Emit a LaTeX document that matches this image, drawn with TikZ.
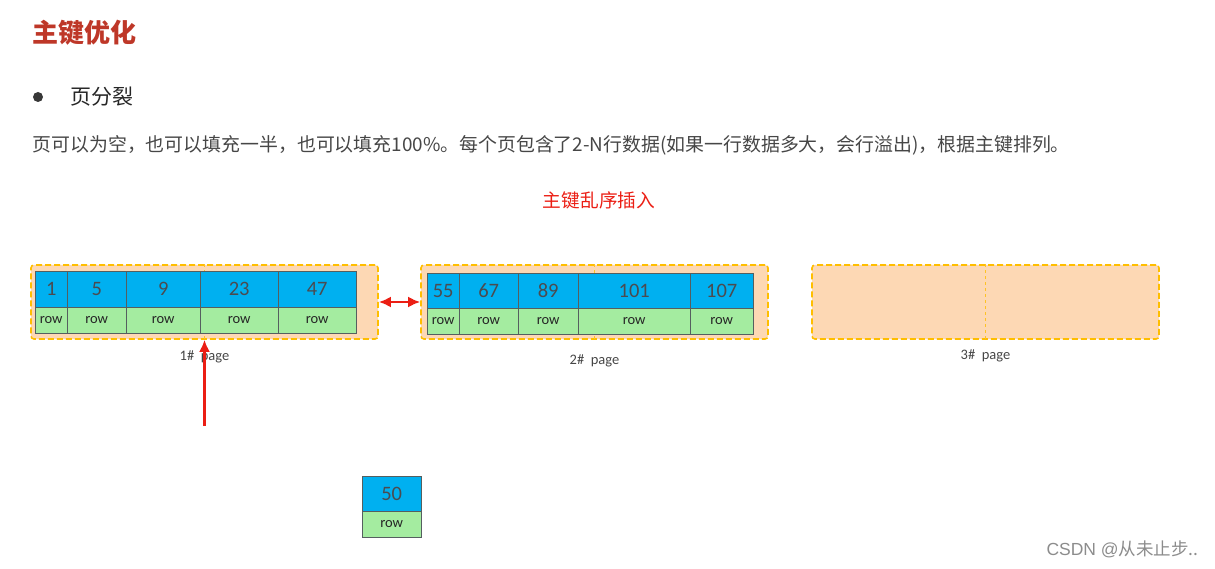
\documentclass[tikz,border=0pt]{standalone}
\usepackage{fontspec}
\setmainfont{Carlito}
\newfontfamily\cjk{Noto Sans CJK SC}
\newfontfamily\marksans{Liberation Sans}
\usetikzlibrary{arrows.meta}
\definecolor{titlered}{RGB}{190,55,40}
\definecolor{keyblue}{RGB}{0,176,240}
\definecolor{rowgreen}{RGB}{164,236,160}
\definecolor{peach}{RGB}{253,216,180}
\definecolor{dashyellow}{RGB}{255,190,0}
\definecolor{cellline}{RGB}{85,95,95}
\definecolor{numgray}{RGB}{75,75,80}
\definecolor{txtgray}{RGB}{70,70,70}
\definecolor{arrowred}{RGB}{235,30,20}

\begin{document}
\begin{tikzpicture}[x=1pt, y=-1pt,
    page/.style={draw=dashyellow, fill=peach, line width=1.6pt, dash pattern=on 6pt off 3pt,
        rounded corners=3pt, minimum width=347pt, minimum height=74pt, inner sep=0pt},
    key/.style={draw=cellline, fill=keyblue, text=numgray, anchor=north west, inner sep=0pt,
        font=\fontsize{20.5}{21}\selectfont},
    rowcell/.style={draw=cellline, fill=rowgreen, text=black!85, anchor=north west, inner sep=0pt,
        font=\fontsize{14.5}{15}\selectfont},
    pagelabel/.style={text=txtgray, font=\fontsize{14.5}{15}\selectfont},
    redarrow/.style={draw=arrowred, line width=2.4pt, -{Latex[length=12pt,width=11pt]}}]
    \useasboundingbox (0,0) rectangle (1215,569);
    % headings
    \node[anchor=west, text=titlered, font=\cjk\bfseries\fontsize{26}{26}\selectfont] (title) at (29,33) {主键优化};
    \node[circle, fill=txtgray!80!black, inner sep=0pt, minimum size=10pt] (dot) at (38,97) {};
    \node[anchor=west, text=black!85, font=\cjk\fontsize{21}{21}\selectfont] (split) at (67,97) {页分裂};
    \node[anchor=west, text=txtgray, font=\cjk\fontsize{18.9}{19}\selectfont] (desc) at (29,145)
        {页可以为空，也可以填充一半，也可以填充100\%。每个页包含了2-N行数据(如果一行数据多大，会行溢出)，根据主键排列。};
    \node[text=arrowred, font=\cjk\fontsize{18.7}{19}\selectfont] (case) at (599,200) {主键乱序插入};
    % pages
    \node[page] (page1) at (204.5,302) {};
    \node[page] (page2) at (594.5,302) {};
    \node[page] (page3) at (985.5,302) {};
    \foreach \p in {1,2,3}
        \draw[dashyellow!80!peach, thin, dashed] (page\p.north) -- (page\p.south);
    \node[pagelabel] (lab1) at (page1.south) [yshift=-17pt] {1\#\ \ page};
    \node[pagelabel] (lab2) at (page2.south) [yshift=-21pt] {2\#\ \ page};
    \node[pagelabel] (lab3) at (page3.south) [yshift=-16pt] {3\#\ \ page};
    % records of page 1
    \foreach \l/\r/\v [count=\i] in {35/67/1, 67/126/5, 126/200/9, 200/278/23, 278/356/47} {
        \node[key, minimum width={(\r-\l)*1pt}, minimum height=36pt] (a\i) at (\l,271) {\v};
        \node[rowcell, minimum width={(\r-\l)*1pt}, minimum height=26pt] (ar\i) at (\l,307) {row};
    }
    % records of page 2
    \foreach \l/\r/\v [count=\i] in {427/459/55, 459/518/67, 518/578/89, 578/690/101, 690/753/107} {
        \node[key, minimum width={(\r-\l)*1pt}, minimum height=35pt] (b\i) at (\l,273) {\v};
        \node[rowcell, minimum width={(\r-\l)*1pt}, minimum height=26pt] (br\i) at (\l,308) {row};
    }
    % the new record
    \node[key, minimum width=59pt, minimum height=35pt] (n50) at (362,476) {50};
    \node[rowcell, minimum width=59pt, minimum height=26pt] (nrow) at (362,511) {row};
    % arrows
    \draw[redarrow, {Latex[length=12pt,width=11pt]}-{Latex[length=12pt,width=11pt]}] (page1.east) -- (page2.west);
    \coordinate (ins) at (204.5,426);
    \draw[redarrow] (ins) -- (page1.south);
    \node[anchor=east, text=black!45, font=\fontsize{17.5}{18}\selectfont] (mark) at (1202,549) {\marksans CSDN @\cjk 从未止步..};
\end{tikzpicture}
\end{document}
